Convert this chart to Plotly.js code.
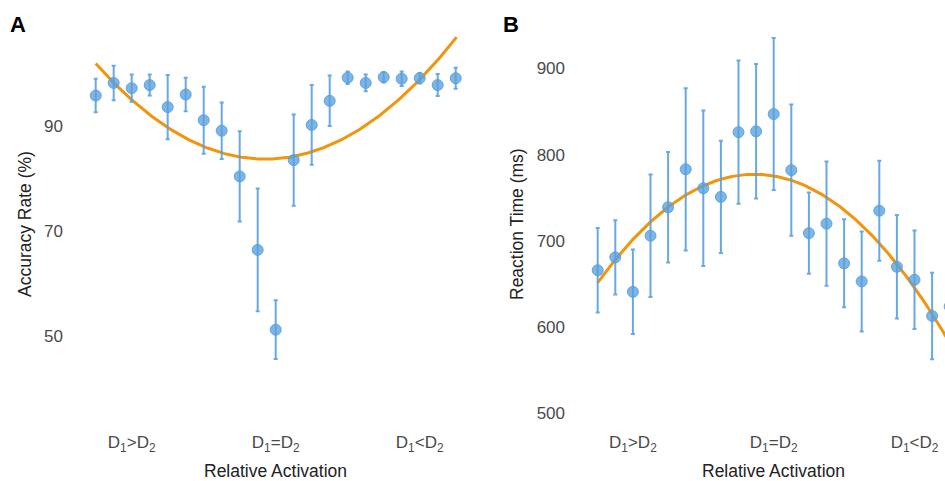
<!DOCTYPE html>
<html><head><meta charset="utf-8">
<script src="https://cdn.plot.ly/plotly-3.0.1.min.js"></script>
<style>html,body{margin:0;padding:0;background:#fff}#c{width:945px;height:481px}</style>
</head><body><div id="c"></div>
<script>
const xIndex = [0,1,2,3,4,5,6,7,8,9,10,11,12,13,14,15,16,17,18,19,20];
const accMean = [95.8,98.2,97.2,97.8,93.6,96.0,91.1,89.1,80.4,66.4,51.2,83.5,90.2,94.8,99.2,98.2,99.3,99.0,99.1,97.8,99.1];
const accErr  = [3.2,3.3,2.6,2.0,6.1,3.2,6.4,5.4,8.6,11.7,5.6,8.7,7.6,4.8,1.2,1.6,1.0,1.4,1.0,2.1,2.0];
const rtMean = [666,681,641,706,739,783,761,751,826,827,847,782,709,720,674,653,735,670,655,613,624];
const rtErr  = [49,43,49,71,64,94,90,65,83,78,88,76,47,72,51,58,58,60,57,50,50];
const tickPos = [2,10,18];
const tickLabels = ['D<sub>1</sub>&gt;D<sub>2</sub>','D<sub>1</sub>=D<sub>2</sub>','D<sub>1</sub>&lt;D<sub>2</sub>'];
// quadratic fits: y = a*(x-h)^2 + k
const accFit = {a:0.2053, h:9.415, k:83.7};
const rtFit  = {a:-1.586, h:8.9, k:777.2};

function fitCurve(f, x0, x1, n){
  const xs=[], ys=[];
  for(let i=0;i<=n;i++){const x=x0+(x1-x0)*i/n; xs.push(x); ys.push(f.a*(x-f.h)*(x-f.h)+f.k);}
  return {xs, ys};
}
const accC = fitCurve(accFit, 0, 20.05, 200);
const rtC = fitCurve(rtFit, 0, 21, 200);

const blue = 'rgba(88,160,222,0.78)';
const blueLine = 'rgba(88,160,222,0.9)';
const orange = '#F0950C';
const W=945,H=481;
const px = v=>v/W, py = v=>1-v/H;
const mk = {color:blue,size:11,line:{color:blueLine,width:1}};

const traces = [
  {x:accC.xs,y:accC.ys,mode:'lines',line:{color:orange,width:3},xaxis:'x',yaxis:'y',hoverinfo:'skip'},
  {x:xIndex,y:accMean,mode:'markers',marker:mk,
   error_y:{type:'data',array:accErr,color:blueLine,thickness:2,width:2},xaxis:'x',yaxis:'y'},
  {x:rtC.xs,y:rtC.ys,mode:'lines',line:{color:orange,width:3},xaxis:'x2',yaxis:'y2',hoverinfo:'skip'},
  {x:xIndex,y:rtMean,mode:'markers',marker:mk,
   error_y:{type:'data',array:rtErr,color:blueLine,thickness:2,width:2},xaxis:'x2',yaxis:'y2'}
];
const tickFont = {family:'Liberation Sans, Arial, sans-serif',size:17,color:'#4a4a4a'};
const titleFont = {family:'Liberation Sans, Arial, sans-serif',size:17.5,color:'#222'};
const commonX = {showgrid:false,zeroline:false,showline:false,ticks:'',tickvals:tickPos,ticktext:tickLabels,tickfont:tickFont,fixedrange:true};
const commonY = {showgrid:false,zeroline:false,showline:false,ticks:'',tickfont:tickFont,ticklabelstandoff:6};
const yTop=25,yBot=430;
const layout = {
  width:W,height:H,margin:{l:0,r:0,t:0,b:0},showlegend:false,
  paper_bgcolor:'#fff',plot_bgcolor:'#fff',
  xaxis:Object.assign({},commonX,{domain:[px(70),px(475)],range:[(70-95.7)/18,(475-95.7)/18],anchor:'y'}),
  yaxis:Object.assign({},commonY,{domain:[py(yBot),py(yTop)],range:[90-(yBot-126)/5.25,90+(126-yTop)/5.25],tickvals:[50,70,90],anchor:'x'}),
  xaxis2:Object.assign({},commonX,{domain:[px(572),1],range:[(572-597.7)/17.6,(945-597.7)/17.6],anchor:'y2'}),
  yaxis2:Object.assign({},commonY,{domain:[py(yBot),py(yTop)],range:[900-(yBot-68.3)/0.863,900+(68.3-yTop)/0.863],tickvals:[500,600,700,800,900],anchor:'x2'}),
  annotations:[
    {text:'<b>A</b>',x:px(8),y:py(25),xref:'paper',yref:'paper',xanchor:'left',yanchor:'middle',showarrow:false,font:{family:'Liberation Sans, Arial, sans-serif',size:22,color:'#000'}},
    {text:'<b>B</b>',x:px(501),y:py(25),xref:'paper',yref:'paper',xanchor:'left',yanchor:'middle',showarrow:false,font:{family:'Liberation Sans, Arial, sans-serif',size:22,color:'#000'}},
    {text:'Relative Activation',x:px(275.5),y:py(471),xref:'paper',yref:'paper',xanchor:'center',yanchor:'middle',showarrow:false,font:titleFont},
    {text:'Relative Activation',x:px(773.5),y:py(471),xref:'paper',yref:'paper',xanchor:'center',yanchor:'middle',showarrow:false,font:titleFont},
    {text:'Accuracy Rate (%)',textangle:-90,x:px(25),y:py(224),xref:'paper',yref:'paper',xanchor:'center',yanchor:'middle',showarrow:false,font:titleFont},
    {text:'Reaction Time (ms)',textangle:-90,x:px(517),y:py(224),xref:'paper',yref:'paper',xanchor:'center',yanchor:'middle',showarrow:false,font:titleFont}
  ]
};
Plotly.newPlot('c',traces,layout,{staticPlot:true,displayModeBar:false});
</script></body></html>
